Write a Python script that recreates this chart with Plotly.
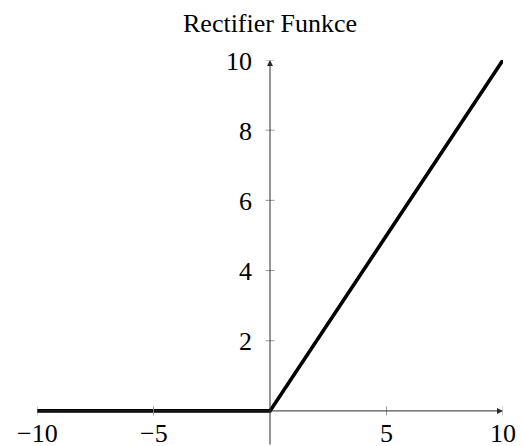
import plotly.graph_objects as go

# Rectifier function f(x) = max(0, x), sampled at its break points
x_vals = [-10, 0, 10]
y_vals = [0, 0, 10]

x_ticks = [-10, -5, 5, 10]
x_tick_labels = ["\u221210", "\u22125", "5", "10"]
y_ticks = [2, 4, 6, 8, 10]
y_tick_labels = ["2", "4", "6", "8", "10"]

title_text = "Rectifier Funkce"

FONT = "Liberation Serif"
FS = 26
AXIS_COLOR = "#2a2a2a"
TICK_COLOR = "#9a9a9a"

fig = go.Figure()

fig.add_trace(go.Scatter(
    x=x_vals, y=y_vals, mode="lines",
    line=dict(color="black", width=3.6),
    hoverinfo="skip", showlegend=False, cliponaxis=False,
))

shapes = []
annotations = []

# axis lines drawn through the origin ("middle" style) with arrow tips
annotations.append(dict(
    x=10, y=0, ax=-10, ay=0, xref="x", yref="y", axref="x", ayref="y",
    showarrow=True, arrowhead=2, arrowsize=1.2, arrowwidth=1,
    arrowcolor=AXIS_COLOR, text="", standoff=0, startstandoff=0,
))
annotations.append(dict(
    x=0, y=10, ax=0, ay=-1, xref="x", yref="y", axref="x", ayref="y",
    showarrow=True, arrowhead=2, arrowsize=1.2, arrowwidth=1,
    arrowcolor=AXIS_COLOR, text="", standoff=0, startstandoff=0,
))

# tick marks crossing the axes
for xv in x_ticks:
    shapes.append(dict(
        type="line", xref="x", yref="y", xsizemode="scaled",
        ysizemode="pixel", yanchor=0, x0=xv, x1=xv, y0=-4.5, y1=4.5,
        line=dict(color=TICK_COLOR, width=1),
    ))
for yv in y_ticks:
    shapes.append(dict(
        type="line", xref="x", yref="y", xsizemode="pixel",
        ysizemode="scaled", xanchor=0, x0=-4.5, x1=4.5, y0=yv, y1=yv,
        line=dict(color=TICK_COLOR, width=1),
    ))

# tick labels
for xv, lab in zip(x_ticks, x_tick_labels):
    annotations.append(dict(
        x=xv, y=0, xref="x", yref="y", text=lab, showarrow=False,
        xanchor="center", yanchor="top", yshift=-6,
        font=dict(family=FONT, size=FS, color="black"),
    ))
for yv, lab in zip(y_ticks, y_tick_labels):
    annotations.append(dict(
        x=0, y=yv, xref="x", yref="y", text=lab, showarrow=False,
        xanchor="right", yanchor="middle", xshift=-16, yshift=-1,
        font=dict(family=FONT, size=FS, color="black"),
    ))

# title above the plot
annotations.append(dict(
    x=0, y=10, xref="x", yref="y", text=title_text, showarrow=False,
    xanchor="center", yanchor="middle", yshift=37,
    font=dict(family=FONT, size=FS, color="black"),
))

fig.update_layout(
    width=521, height=446,
    margin=dict(l=37, r=18, t=60, b=0),
    paper_bgcolor="white", plot_bgcolor="white",
    xaxis=dict(range=[-10, 10], visible=False, fixedrange=True),
    yaxis=dict(range=[-1, 10], visible=False, fixedrange=True),
    shapes=shapes, annotations=annotations,
    showlegend=False,
)

fig.write_html("out.html")
